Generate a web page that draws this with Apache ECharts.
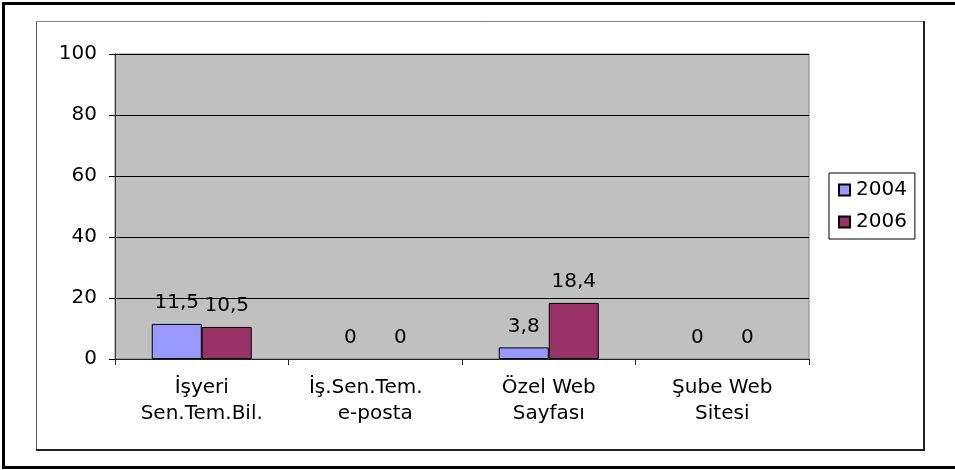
<!DOCTYPE html>
<html>
<head>
<meta charset="utf-8">
<script src="https://cdn.jsdelivr.net/npm/echarts@6/dist/echarts.min.js"></script>
<style>
  html, body { margin: 0; padding: 0; background: #fff; overflow: hidden; }
  #main { width: 955px; height: 470px; }
</style>
</head>
<body>
<div id="main"></div>
<script>
// data
const categories = ['İşyeri\nSen.Tem.Bil.', 'İş.Sen.Tem.   \ne-posta', 'Özel Web\nSayfası', 'Şube Web\nSitesi'];
const years = ['2004', '2006'];
const values2004 = [11.5, 0, 3.8, 0];
const values2006 = [10.5, 0, 18.4, 0];
const yTicks = [0, 20, 40, 60, 80, 100];

const FONT = 'DejaVu Sans';
const FS = 20;

let chart = echarts.init(document.getElementById('main'), null, { renderer: 'canvas' });

function labelFmt(p) {
  return String(p.value).replace('.', ',');
}

function makeSeries(name, data, color) {
  return {
    name: name,
    type: 'bar',
    // zero bars get no outline, like the original
    data: data.map(v => v === 0 ? { value: v, itemStyle: { borderWidth: 0 } } : v),
    barWidth: 50,
    barGap: '0%',
    itemStyle: { color: color, borderColor: '#000', borderWidth: 1 },
    label: {
      show: true,
      position: 'top',
      distance: 11,
      color: '#000',
      fontFamily: FONT,
      fontSize: FS,
      formatter: labelFmt
    }
  };
}

function frameLine(x1, y1, x2, y2, color, w) {
  return {
    type: 'line',
    shape: { x1: x1, y1: y1, x2: x2, y2: y2 },
    style: { stroke: color, lineWidth: w },
    silent: true
  };
}

let option = {
  animation: false,
  backgroundColor: '#fff',
  textStyle: { fontFamily: FONT },
  graphic: [
    frameLine(2, 3.5, 955, 3.5, '#000', 3),
    frameLine(3.5, 2, 3.5, 469, '#000', 3),
    frameLine(2, 467.5, 955, 467.5, '#000', 3),
    frameLine(36.5, 21.5, 924, 21.5, '#888', 1),
    frameLine(36.5, 21.5, 36.5, 450, '#555', 1),
    frameLine(36, 450, 925, 450, '#222', 2),
    frameLine(924, 21, 924, 451, '#222', 2)
  ],
  legend: {
    data: years,
    orient: 'vertical',
    left: 829,
    top: 173,
    padding: [7, 8, 7, 9],
    itemGap: 12,
    itemWidth: 11,
    itemHeight: 11,
    icon: 'rect',
    borderColor: '#000',
    borderWidth: 1,
    backgroundColor: '#fff',
    textStyle: { color: '#000', fontFamily: FONT, fontSize: FS, padding: [0, 0, 0, 1] }
  },
  grid: {
    left: 115,
    top: 54,
    right: 146,
    bottom: 111,
    show: true,
    backgroundColor: '#c0c0c0',
    borderColor: '#808080',
    borderWidth: 1
  },
  xAxis: {
    type: 'category',
    data: categories,
    axisLine: { lineStyle: { color: '#222', width: 1 } },
    axisTick: { show: true, length: 6, lineStyle: { color: '#222' } },
    axisLabel: {
      color: '#000',
      fontFamily: FONT,
      fontSize: FS,
      lineHeight: 26,
      margin: 16,
      interval: 0
    }
  },
  yAxis: {
    type: 'value',
    min: yTicks[0],
    max: yTicks[yTicks.length - 1],
    interval: 20,
    axisLine: { show: true, lineStyle: { color: '#333', width: 1 } },
    axisTick: { show: true, length: 6, lineStyle: { color: '#000' } },
    axisLabel: { color: '#000', fontFamily: FONT, fontSize: FS, margin: 18 },
    splitLine: { show: true, lineStyle: { color: '#000', width: 1 } }
  },
  series: [
    makeSeries(years[0], values2004, '#9999ff'),
    makeSeries(years[1], values2006, '#993366')
  ]
};

chart.setOption(option);
</script>
</body>
</html>
